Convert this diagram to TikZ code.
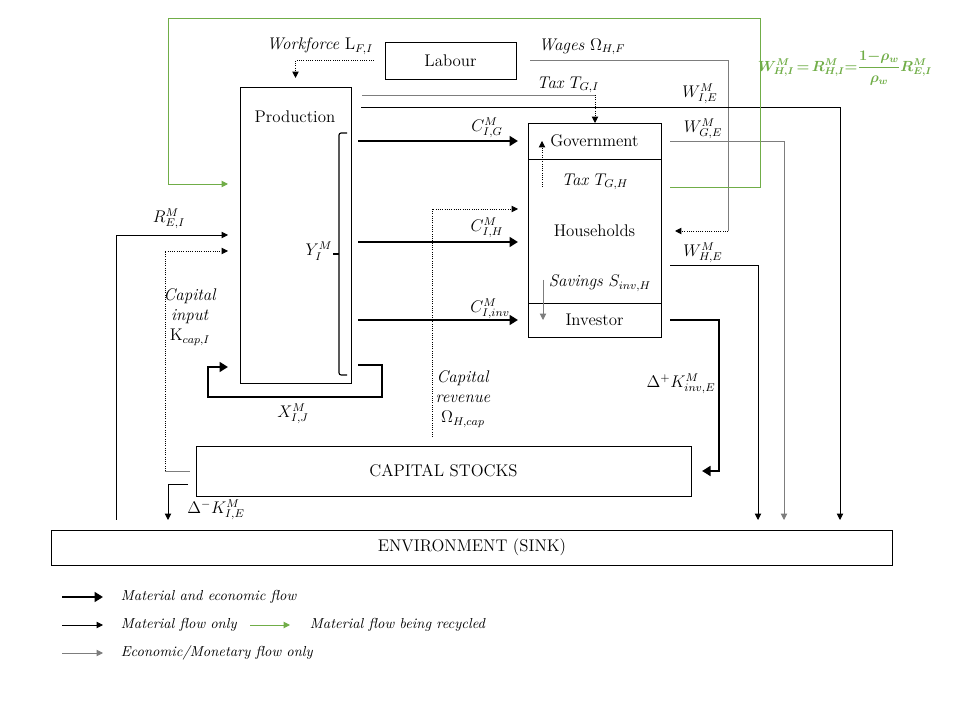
\documentclass[tikz,border=0pt,12pt]{standalone}
\usepackage{amsmath}
\usepackage{amssymb}
\usepackage{bm}
\usepackage{tikz}
\usepackage{xcolor}
\usetikzlibrary{arrows.meta,positioning}

\definecolor{recgreen}{RGB}{112,173,71}
\definecolor{econgray}{RGB}{125,125,125}

\tikzset{
  box/.style={draw, line width=0.6pt, inner sep=0pt, outer sep=0pt},
  flow/.style={line width=2pt, >={Triangle[length=6pt,width=7pt]}},
  mat/.style={line width=0.6pt},
  econ/.style={econgray, line width=0.6pt},
  econdot/.style={densely dotted, line width=0.6pt},
  recyc/.style={recgreen, line width=0.7pt},
  legtext/.style={anchor=west, font=\fontsize{10.3}{12}\selectfont\itshape},
}

\begin{document}
\begin{tikzpicture}[x=0.025cm,y=-0.025cm,>={Triangle[length=4.5pt,width=4.5pt]}]
  \useasboundingbox (0,0) rectangle (960,720);

  % sectors
  \node[box, minimum width=3.275cm, minimum height=0.925cm] (labour) at (450.5,60.5) {Labour};
  \node[box, minimum width=2.775cm, minimum height=7.4cm] (prod) at (295.5,235) {};
  \node (prodtxt) at (295,117) {Production};
  \node[box, minimum width=3.325cm, minimum height=0.9cm] (gov) at (594.5,141) {Government};
  \node[box, minimum width=3.325cm, minimum height=3.6cm] (hh) at (594.5,231) {Households};
  \node[box, minimum width=3.325cm, minimum height=0.85cm] (inv) at (594.5,320) {Investor};
  \node[box, minimum width=12.375cm, minimum height=1.25cm] (stock) at (443.5,471) {CAPITAL STOCKS};
  \node[box, minimum width=21cm, minimum height=0.875cm] (env) at (472,547.5) {ENVIRONMENT (SINK)};

  \coordinate (pout) at ([xshift=0.175cm]prod.east);
  \coordinate (pout2) at ([xshift=0.275cm]prod.east);
  \coordinate (pin) at ([xshift=-0.3cm]prod.west);
  \coordinate (hin) at ([xshift=-0.25cm]hh.west);
  \coordinate (hout) at ([xshift=0.225cm]hh.east);

  % material and economic flows
  \draw[flow,->] (pout |- gov.west) -- (hin |- gov.west);
  \coordinate (cih) at (358,242);
  \draw[flow,->] (cih) -- (hin |- cih);
  \draw[flow,->] (pout |- inv.west) -- (hin |- inv.west);
  \coordinate (xa) at (358,365);
  \coordinate (xb) at (382,397);
  \coordinate (xc) at (208,367);
  \draw[flow,->] (xa) -| (xb) -| (xc) -- (pin |- xc);
  \coordinate (dkp) at (719,471);
  \draw[flow,->] (hout |- inv.east) -| (dkp) -- ([xshift=0.275cm]stock.east);
  \node (lcig) at (487,128) {$C^M_{I,G}$};
  \node (lcih) at (487,228) {$C^M_{I,H}$};
  \node (lciinv) at (490,309) {$C^M_{I,inv}$};
  \node (lxij) at (293,414) {$X^M_{I,J}$};
  \node (ldkp) at (681,384) {$\Delta^{+}K^M_{inv,E}$};

  % output bracket
  \coordinate (brtop) at (347,133);
  \coordinate (brbot) at (347,375);
  \draw[line width=0.8pt, rounded corners=1.5pt] (brtop) -- (339,133) -- (339,375) -- (brbot);
  \draw[line width=0.8pt] (339,254) -- (333,254);
  \node (yim) at (319,251) {$Y^M_I$};

  % labour and taxes
  \draw[econdot,->] ([xshift=-0.275cm]labour.west) -| ([yshift=0.225cm]prod.north);
  \node (lwork) at (320,46) {\textit{Workforce} $\mathrm{L}_{F,I}$};
  \coordinate (wagec) at (728,231);
  \draw[econ] ([xshift=0.35cm]labour.east) -| (wagec);
  \draw[econdot,->] (wagec) -- ([xshift=0.35cm]hh.east);
  \node (lwage) at (582,47) {\textit{Wages} $\Omega_{H,F}$};
  \coordinate (taxgi) at (595,95);
  \draw[econ] (pout2 |- taxgi) -- (taxgi);
  \draw[econdot,->] (taxgi) -- (taxgi |- gov.north);
  \node (ltaxgi) at (568,85) {\textit{Tax} $T_{G,I}$};
  \coordinate (tgh) at (542,187);
  \draw[econdot,->] (tgh) -- (tgh |- gov.center);
  \node (ltgh) at (595,182) {\textit{Tax} $T_{G,H}$};
  \coordinate (sav) at (543,280);
  \draw[econ,->] (sav) -- (sav |- inv.center);
  \node (lsav) at (600,283) {\textit{Savings} $S_{inv,H}$};

  % capital
  \coordinate (crev) at (432,437);
  \coordinate (crevend) at (518,209);
  \draw[econdot,->] (crev) |- (crevend);
  \node[align=center] (lcrev) at (463,399) {\textit{Capital}\\\textit{revenue}\\$\Omega_{H,cap}$};
  \coordinate (kc) at (165,471);
  \coordinate (kcend) at (228,251);
  \draw[econ] ([xshift=-0.15cm]stock.west) -- (kc);
  \draw[econdot,->] (kc) |- (kcend);
  \node[align=center] (lkc) at (190,317) {\textit{Capital}\\\textit{input}\\$\mathrm{K}_{cap,I}$};

  % exchanges with the environment
  \coordinate (wies) at (361,107);
  \coordinate (wie) at (840,520);
  \draw[mat,->] (wies) -| (wie);
  \node (lwie) at (700,94) {$W^M_{I,E}$};
  \coordinate (wge) at (784,520);
  \draw[econ,->] (hout |- gov.east) -| (wge);
  \node (lwge) at (703,129) {$W^M_{G,E}$};
  \coordinate (whes) at (670,265);
  \coordinate (whe) at (758,520);
  \draw[mat,->] (whes) -| (whe);
  \node (lwhe) at (703,253) {$W^M_{H,E}$};
  \coordinate (dkms) at (188,484);
  \coordinate (dkm) at (168,520);
  \draw[mat,->] (dkms) -| (dkm);
  \node (ldkm) at (216,510) {$\Delta^{-}K^M_{I,E}$};
  \coordinate (reis) at (116,520);
  \coordinate (rei) at (228,235);
  \draw[mat,->] (reis) |- (rei);
  \node (lrei) at (169,219) {$R^M_{E,I}$};

  % recycling
  \coordinate (grs) at (670,187);
  \coordinate (grc) at (760,18);
  \coordinate (grd) at (168,184);
  \draw[recyc,->] (grs) -| (grc) -| (grd) -- (pin |- grd);
  \node[recgreen, inner sep=0pt] (formula) at (845,68) {\scalebox{0.87}{$\boldsymbol{W^M_{H,I}\,{=}\,R^M_{H,I}{=}\dfrac{\mathbf{1}{-}\rho_w}{\rho_w}R^M_{E,I}}$}};

  % legend
  \node[legtext] (lgA) at (115,597) {Material and economic flow};
  \node[legtext] (lgB) at (115,625) {Material flow only};
  \node[legtext] (lgC) at (304,625) {Material flow being recycled};
  \node[legtext] (lgD) at (115,653) {Economic/Monetary flow only};
  \draw[flow,->] (lgA.west) ++(-53,0) -- ++(41,0);
  \draw[mat,->] (lgB.west) ++(-53,0) -- ++(41,0);
  \draw[recyc,->] (lgC.west) ++(-54,0) -- ++(40,0);
  \draw[econ,->] (lgD.west) ++(-53,0) -- ++(41,0);
\end{tikzpicture}
\end{document}
